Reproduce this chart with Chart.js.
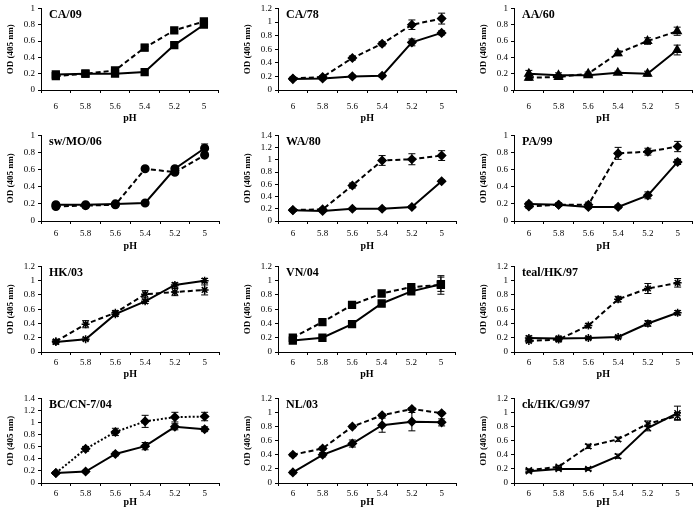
<!DOCTYPE html>
<html>
<head>
<meta charset="utf-8">
<script src="https://cdn.jsdelivr.net/npm/chart.js@4.4.0/dist/chart.umd.min.js"></script>
<style>
body{margin:0;background:#fff;}
#figura{position:relative;width:696px;height:514px;overflow:hidden;background:#fff;}
#figura canvas{position:absolute;}
</style>
</head>
<body>
<div id="figura"></div>
<script>
// dados
const phLabels = ['6','5.8','5.6','5.4','5.2','5'];
const strainNames = ['CA/09','CA/78','AA/60','sw/MO/06','WA/80','PA/99','HK/03','VN/04','teal/HK/97','BC/CN-7/04','NL/03','ck/HK/G9/97'];
const yMaxValues = [1,1.2,1,1,1.4,1,1.2,1.2,1.2,1.4,1.2,1.2];

const dashedValues = [
  [0.17,0.2,0.24,0.52,0.73,0.84],
  [0.17,0.19,0.47,0.68,0.96,1.05],
  [0.15,0.16,0.2,0.45,0.6,0.72],
  [0.17,0.18,0.19,0.61,0.57,0.77],
  [0.18,0.19,0.58,0.99,1.01,1.07],
  [0.17,0.19,0.19,0.79,0.81,0.87],
  [0.15,0.39,0.55,0.81,0.84,0.87],
  [0.2,0.42,0.66,0.82,0.91,0.94],
  [0.155,0.175,0.37,0.74,0.89,0.97],
  [0.165,0.565,0.845,1.02,1.09,1.1],
  [0.4,0.49,0.8,0.96,1.05,0.99],
  [0.18,0.23,0.52,0.62,0.84,0.95]
];
const dashedErrors = [
  [0.02,0.02,0.03,0.04,0.03,0.03],
  [0.02,0.02,0.03,0.03,0.07,0.08],
  [0.03,0.03,0.02,0.03,0.04,0.05],
  [0.02,0.02,0.02,0.02,0.02,0.03],
  [0.02,0.02,0.04,0.08,0.09,0.08],
  [0.02,0.02,0.03,0.07,0.04,0.06],
  [0.02,0.05,0.03,0.05,0.05,0.07],
  [0.02,0.02,0.02,0.02,0.03,0.13],
  [0.02,0.03,0.03,0.04,0.07,0.06],
  [0.02,0.04,0.06,0.1,0.08,0.07],
  [0.02,0.02,0.02,0.02,0.02,0.02],
  [0.02,0.02,0.03,0.03,0.04,0.05]
];
const solidValues = [
  [0.19,0.2,0.2,0.22,0.55,0.8],
  [0.16,0.17,0.2,0.21,0.7,0.84],
  [0.2,0.18,0.18,0.21,0.2,0.49],
  [0.19,0.19,0.2,0.21,0.61,0.85],
  [0.175,0.165,0.2,0.2,0.23,0.65],
  [0.2,0.19,0.165,0.165,0.3,0.69],
  [0.14,0.18,0.53,0.71,0.94,1.0],
  [0.16,0.2,0.39,0.68,0.85,0.95],
  [0.195,0.19,0.195,0.21,0.4,0.55],
  [0.165,0.19,0.48,0.61,0.93,0.89],
  [0.15,0.4,0.56,0.82,0.87,0.86],
  [0.165,0.2,0.2,0.38,0.78,0.99]
];
const solidErrors = [
  [0.02,0.02,0.02,0.02,0.03,0.03],
  [0.02,0.02,0.02,0.02,0.05,0.03],
  [0.04,0.03,0.02,0.02,0.03,0.06],
  [0.02,0.02,0.02,0.02,0.02,0.05],
  [0.02,0.02,0.02,0.02,0.02,0.02],
  [0.02,0.02,0.02,0.02,0.04,0.03],
  [0.03,0.02,0.03,0.03,0.03,0.03],
  [0.02,0.02,0.02,0.02,0.02,0.1],
  [0.03,0.03,0.02,0.02,0.04,0.03],
  [0.02,0.02,0.03,0.06,0.05,0.04],
  [0.02,0.03,0.05,0.1,0.13,0.05],
  [0.02,0.02,0.02,0.03,0.04,0.1]
];

// estilo de cada painel
const marcadores = ['rect','rectRot','triangle','circle','rectRot','rectRot','star','rect','star','rectRot','rectRot','crossRot'];
const raios = {rect:4.8, rectRot:4, triangle:4.5, circle:3.8, star:4, crossRot:4.2};
const colunas = [0, 237, 473];
const linhas = [
  {top:0, padTop:3, plotH:87, eixoX:34, padTicks:8},
  {top:127, padTop:5, plotH:89, eixoX:31, padTicks:4},
  {top:258, padTop:5, plotH:89, eixoX:28, padTicks:2},
  {top:390, padTop:5, plotH:88, eixoX:25, padTicks:2}
];
const fonte = "'Liberation Serif', 'Times New Roman', serif";

const barrasDeErro = {
  id: 'barrasDeErro',
  afterDatasetsDraw(chart){
    const ctx = chart.ctx;
    const y = chart.scales.y;
    ctx.save();
    ctx.strokeStyle = '#000';
    ctx.lineWidth = 1;
    chart.data.datasets.forEach(function(ds, i){
      const meta = chart.getDatasetMeta(i);
      meta.data.forEach(function(pt, j){
        const e = ds.erros[j];
        const yTop = y.getPixelForValue(ds.data[j] + e);
        const yBot = y.getPixelForValue(ds.data[j] - e);
        ctx.beginPath();
        ctx.moveTo(pt.x, yTop); ctx.lineTo(pt.x, yBot);
        ctx.moveTo(pt.x - 3.5, yTop); ctx.lineTo(pt.x + 3.5, yTop);
        ctx.moveTo(pt.x - 3.5, yBot); ctx.lineTo(pt.x + 3.5, yBot);
        ctx.stroke();
      });
    });
    ctx.restore();
  }
};

const nomeDoPainel = {
  id: 'nomeDoPainel',
  afterDraw(chart, args, opts){
    const ctx = chart.ctx;
    ctx.save();
    ctx.fillStyle = '#000';
    ctx.font = 'bold 12px ' + fonte;
    ctx.textBaseline = 'middle';
    ctx.fillText(opts.texto, chart.chartArea.left + 8, chart.chartArea.top + 7);
    ctx.restore();
  }
};

const figura = document.getElementById('figura');

for(let p = 0; p < strainNames.length; p++){
  const col = p % 3;
  const lin = linhas[Math.floor(p / 3)];
  const largura = 225;
  const altura = lin.padTop + lin.plotH + lin.eixoX;

  const canvas = document.createElement('canvas');
  canvas.width = largura;
  canvas.height = altura;
  canvas.style.left = colunas[col] + 'px';
  canvas.style.top = lin.top + 'px';
  canvas.style.width = largura + 'px';
  canvas.style.height = altura + 'px';
  figura.appendChild(canvas);

  const estilo = marcadores[p];
  const tracejado = p == 9 ? [2, 2] : [5, 3];

  new Chart(canvas.getContext('2d'), {
    type: 'line',
    data: {
      labels: phLabels,
      datasets: [
        {
          data: dashedValues[p],
          erros: dashedErrors[p],
          borderColor: '#000',
          backgroundColor: '#000',
          borderWidth: 2,
          borderDash: tracejado,
          pointStyle: estilo,
          pointRadius: raios[estilo],
          pointBorderWidth: 1.5,
          pointBorderColor: '#000',
          pointBackgroundColor: '#000',
          tension: 0
        },
        {
          data: solidValues[p],
          erros: solidErrors[p],
          borderColor: '#000',
          backgroundColor: '#000',
          borderWidth: 2,
          pointStyle: estilo,
          pointRadius: raios[estilo],
          pointBorderWidth: 1.5,
          pointBorderColor: '#000',
          pointBackgroundColor: '#000',
          tension: 0
        }
      ]
    },
    options: {
      responsive: false,
      animation: false,
      devicePixelRatio: 1,
      layout: {padding: {top: lin.padTop, right: 2, left: 0, bottom: 0}},
      plugins: {
        legend: {display: false},
        tooltip: {enabled: false},
        nomeDoPainel: {texto: strainNames[p]}
      },
      scales: {
        x: {
          type: 'category',
          offset: true,
          afterFit: function(s){ s.height = lin.eixoX; },
          grid: {display: true, offset: true, drawOnChartArea: false, drawTicks: true, tickLength: 3, color: '#000'},
          border: {display: true, color: '#000', width: 1},
          ticks: {color: '#000', font: {family: fonte, size: 9}, padding: lin.padTicks, maxRotation: 0, autoSkip: false},
          title: {display: true, text: 'pH', color: '#000', font: {family: fonte, size: 10, weight: 'bold'}, padding: 0}
        },
        y: {
          min: 0,
          max: yMaxValues[p],
          afterFit: function(s){ s.width = 41; },
          grid: {display: true, drawOnChartArea: false, drawTicks: true, tickLength: 3, color: '#000'},
          border: {display: true, color: '#000', width: 1},
          ticks: {
            stepSize: 0.2,
            autoSkip: false,
            color: '#000',
            font: {family: fonte, size: 9},
            padding: 3,
            callback: function(v){ return String(parseFloat(v.toFixed(1))); }
          },
          title: {display: true, text: 'OD (405 nm)', color: '#000', font: {family: fonte, size: 9, weight: 'bold'}, padding: {top: 5, bottom: 0}}
        }
      }
    },
    plugins: [barrasDeErro, nomeDoPainel]
  });
}
</script>
</body>
</html>
